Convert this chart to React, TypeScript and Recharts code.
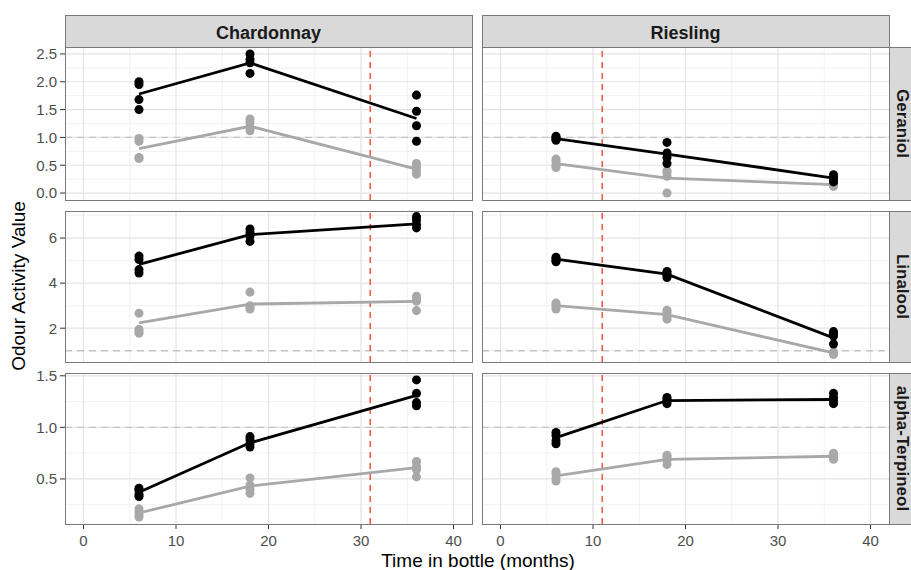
import React from "react";
import {
  CartesianGrid, ComposedChart, ReferenceLine, Scatter, XAxis, YAxis
} from "recharts";

const months = [6, 18, 36];
const wines = ["Chardonnay", "Riesling"];
const compounds = ["Geraniol", "Linalool", "alpha-Terpineol"];
const bottling = [31, 11];

// replicates: one inner list per month (6, 18, 36)
const chGeraniolBlack = [[2.0, 1.95, 1.68, 1.5], [2.5, 2.4, 2.34, 2.15], [1.76, 1.47, 1.21, 0.93]];
const chGeraniolBlackLine = [1.78, 2.34, 1.34];
const chGeraniolGrey = [[0.98, 0.93, 0.64, 0.62], [1.33, 1.27, 1.18, 1.12], [0.53, 0.47, 0.4, 0.34]];
const chGeraniolGreyLine = [0.8, 1.2, 0.43];

const riGeraniolBlack = [[1.02, 1.0, 0.97, 0.95], [0.91, 0.72, 0.64, 0.53], [0.33, 0.28, 0.24, 0.2]];
const riGeraniolBlackLine = [0.98, 0.7, 0.27];
const riGeraniolGrey = [[0.61, 0.57, 0.5, 0.46], [0.4, 0.37, 0.3, 0.0], [0.17, 0.15, 0.13, 0.12]];
const riGeraniolGreyLine = [0.53, 0.27, 0.15];

const chLinaloolBlack = [[5.2, 5.05, 4.6, 4.45], [6.4, 6.25, 6.1, 5.85], [6.95, 6.8, 6.6, 6.45]];
const chLinaloolBlackLine = [4.83, 6.15, 6.63];
const chLinaloolGrey = [[2.66, 1.95, 1.85, 1.78], [3.6, 3.0, 2.92, 2.85], [3.42, 3.3, 3.2, 2.78]];
const chLinaloolGreyLine = [2.24, 3.07, 3.19];

const riLinaloolBlack = [[5.15, 5.08, 5.0, 4.95], [4.52, 4.45, 4.35, 4.25], [1.85, 1.78, 1.65, 1.3]];
const riLinaloolBlackLine = [5.06, 4.4, 1.57];
const riLinaloolGrey = [[3.12, 3.05, 2.95, 2.85], [2.8, 2.7, 2.5, 2.4], [0.95, 0.9, 0.87, 0.83]];
const riLinaloolGreyLine = [3.0, 2.6, 0.9];

const chTerpBlack = [[0.41, 0.39, 0.35, 0.33], [0.91, 0.88, 0.84, 0.81], [1.46, 1.33, 1.24, 1.21]];
const chTerpBlackLine = [0.37, 0.85, 1.31];
const chTerpGrey = [[0.21, 0.18, 0.15, 0.13], [0.51, 0.44, 0.4, 0.36], [0.67, 0.62, 0.59, 0.52]];
const chTerpGreyLine = [0.17, 0.43, 0.61];

const riTerpBlack = [[0.95, 0.92, 0.87, 0.84], [1.29, 1.27, 1.25, 1.23], [1.33, 1.29, 1.26, 1.23]];
const riTerpBlackLine = [0.9, 1.26, 1.27];
const riTerpGrey = [[0.57, 0.55, 0.51, 0.48], [0.73, 0.71, 0.68, 0.64], [0.75, 0.73, 0.71, 0.69]];
const riTerpGreyLine = [0.53, 0.69, 0.72];

const xTicks = [0, 10, 20, 30, 40];
const xMinor = [5, 15, 25, 35];
const yTicks = [[0, 0.5, 1, 1.5, 2, 2.5], [2, 4, 6], [0.5, 1, 1.5]];
const yMinor = [[0.25, 0.75, 1.25, 1.75, 2.25], [1, 3, 5, 7], [0.25, 0.75, 1.25]];
const xDomain = [-2, 42];
const yDomains = [[-0.125, 2.625], [0.5, 7.2], [0.063, 1.527]];

const panels = [
  { col: 0, row: 0, black: chGeraniolBlack, blackLine: chGeraniolBlackLine, grey: chGeraniolGrey, greyLine: chGeraniolGreyLine },
  { col: 1, row: 0, black: riGeraniolBlack, blackLine: riGeraniolBlackLine, grey: riGeraniolGrey, greyLine: riGeraniolGreyLine },
  { col: 0, row: 1, black: chLinaloolBlack, blackLine: chLinaloolBlackLine, grey: chLinaloolGrey, greyLine: chLinaloolGreyLine },
  { col: 1, row: 1, black: riLinaloolBlack, blackLine: riLinaloolBlackLine, grey: riLinaloolGrey, greyLine: riLinaloolGreyLine },
  { col: 0, row: 2, black: chTerpBlack, blackLine: chTerpBlackLine, grey: chTerpGrey, greyLine: chTerpGreyLine },
  { col: 1, row: 2, black: riTerpBlack, blackLine: riTerpBlackLine, grey: riTerpGrey, greyLine: riTerpGreyLine },
];

const FONT = "'Liberation Sans', Arial, sans-serif";
const colLeft = [65, 482];
const panelW = 407;
const rowTop = [47, 211, 373];
const rowH = [153, 151, 151];
const stripTop = 15;
const stripH = 32;
const PAD = 10;
const BLACK = "#000000";
const GREY = "#a8a8a8";

const toPoints = (vals: number[][]) =>
  months.flatMap((m, i) => vals[i].map((v) => ({ x: m, y: v })));
const toLine = (vals: number[]) => months.map((m, i) => ({ x: m, y: vals[i] }));
const noDot = () => <g />;

function Panel({ p }: { p: any }) {
  const yw = p.col === 0 ? colLeft[0] : 0;
  const bottom = p.row === 2;
  const fmt = p.row === 1 ? (v: number) => String(v) : (v: number) => v.toFixed(1);
  return (
    <div style={{ position: "absolute", left: colLeft[p.col] - yw, top: rowTop[p.row] - PAD }}>
      <ComposedChart
        width={panelW + yw}
        height={rowH[p.row] + PAD + (bottom ? 30 : PAD)}
        margin={{ top: PAD, right: 0, bottom: bottom ? 0 : PAD, left: 0 }}
      >
        <XAxis
          type="number" dataKey="x" domain={xDomain} ticks={xTicks} allowDataOverflow
          hide={!bottom} height={30} tickSize={5} tickMargin={6} axisLine={false}
          tickLine={{ stroke: "#333" }} interval={0}
          tick={{ fontSize: 15, fill: "#4d4d4d", fontFamily: FONT }}
        />
        <YAxis
          type="number" dataKey="y" domain={yDomains[p.row]} ticks={yTicks[p.row]} allowDataOverflow
          hide={p.col !== 0} width={65} tickSize={5} tickMargin={3} axisLine={false}
          tickLine={{ stroke: "#333" }} interval={0} tickFormatter={fmt}
          tick={{ fontSize: 15, fill: "#4d4d4d", fontFamily: FONT }}
        />
        <CartesianGrid horizontalValues={yMinor[p.row]} verticalValues={xMinor} stroke="#ececec" strokeWidth={0.7} />
        <CartesianGrid horizontalValues={yTicks[p.row]} verticalValues={xTicks} stroke="#e3e3e3" strokeWidth={1.2} />
        <ReferenceLine y={1} stroke="#c4c4c4" strokeDasharray="7 5" strokeWidth={1.3} />
        <Scatter data={toPoints(p.grey)} fill={GREY} isAnimationActive={false} />
        <Scatter data={toLine(p.greyLine)} fill={GREY} shape={noDot} line={{ stroke: GREY, strokeWidth: 2.8 }} isAnimationActive={false} />
        <Scatter data={toPoints(p.black)} fill={BLACK} isAnimationActive={false} />
        <Scatter data={toLine(p.blackLine)} fill={BLACK} shape={noDot} line={{ stroke: BLACK, strokeWidth: 2.8 }} isAnimationActive={false} />
        <ReferenceLine x={bottling[p.col]} stroke="#ef5b4b" strokeDasharray="6 5" strokeWidth={1.6} />
      </ComposedChart>
    </div>
  );
}

export default function App() {
  const stripX = colLeft[1] + panelW;
  const labelX = stripX + 13;
  return (
    <div style={{ position: "absolute", left: 0, top: 0, width: 911, height: 570, background: "#fff", fontFamily: FONT, overflow: "hidden" }}>
      {panels.map((p, i) => <Panel key={i} p={p} />)}
      <svg width={911} height={570} style={{ position: "absolute", left: 0, top: 0, pointerEvents: "none" }}>
        {wines.map((w, c) => (
          <g key={w}>
            <rect x={colLeft[c] + 0.5} y={stripTop + 0.5} width={panelW} height={stripH} fill="#d9d9d9" stroke="#7a7a7a" />
            <text x={colLeft[c] + panelW / 2} y={stripTop + 24} textAnchor="middle" fontSize={18} fontWeight="bold" fill="#1a1a1a">{w}</text>
          </g>
        ))}
        {compounds.map((name, r) => (
          <g key={name}>
            <rect x={stripX + 0.5} y={rowTop[r] + 0.5} width={stripH} height={rowH[r]} fill="#d9d9d9" stroke="#7a7a7a" />
            <text
              x={labelX} y={rowTop[r] + rowH[r] / 2}
              transform={`rotate(90, ${labelX}, ${rowTop[r] + rowH[r] / 2})`}
              textAnchor="middle" dominantBaseline="central" fontSize={17} fontWeight="bold" fill="#1a1a1a"
            >{name}</text>
            {colLeft.map((x) => (
              <rect key={x} x={x + 0.5} y={rowTop[r] + 0.5} width={panelW} height={rowH[r]} fill="none" stroke="#7a7a7a" />
            ))}
          </g>
        ))}
        <text x={18} y={286} transform="rotate(-90, 18, 286)" textAnchor="middle" dominantBaseline="central" fontSize={19} fill="#000">Odour Activity Value</text>
        <text x={478} y={567} textAnchor="middle" fontSize={19} fill="#000">Time in bottle (months)</text>
      </svg>
    </div>
  );
}
